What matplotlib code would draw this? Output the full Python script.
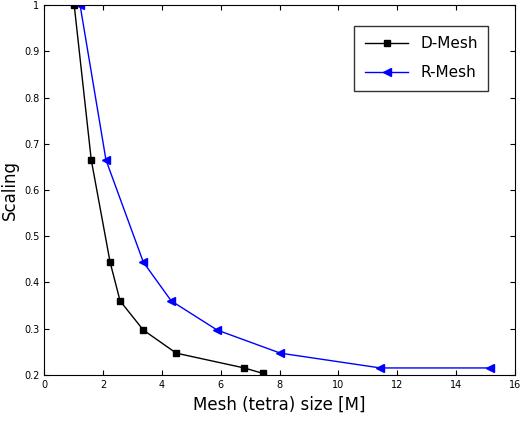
import matplotlib
matplotlib.use("Agg")
import matplotlib.pyplot as plt

d_size = [1.02, 1.6, 2.24, 2.58, 3.37, 4.49, 6.8, 7.45]
d_scale = [1.0, 0.665, 0.444, 0.36, 0.297, 0.247, 0.215, 0.203]
r_size = [1.22, 2.1, 3.37, 4.32, 5.88, 8.03, 11.43, 15.17]
r_scale = [1.0, 0.665, 0.444, 0.36, 0.297, 0.247, 0.215, 0.215]

fig = plt.figure(figsize=(5.2, 4.26), dpi=100)
ax = fig.add_axes([0.085, 0.12, 0.905, 0.868])
ax.plot(d_size, d_scale, color="black", marker="s", ms=5, lw=1, label="D-Mesh")
ax.plot(r_size, r_scale, color="blue", marker="<", ms=6, lw=1, label="R-Mesh")
ax.set_xlim(0, 16)
ax.set_ylim(0.2, 1.0)
ax.set_xticks(range(0, 17, 2))
ax.set_yticks([0.2, 0.3, 0.4, 0.5, 0.6, 0.7, 0.8, 0.9, 1])
ax.set_yticklabels(["0.2", "0.3", "0.4", "0.5", "0.6", "0.7", "0.8", "0.9", "1"])
ax.tick_params(labelsize=7, direction="in", top=True, right=True)
ax.set_xlabel("Mesh (tetra) size [M]", fontsize=12)
ax.set_ylabel("Scaling", fontsize=12)
ax.legend(loc="upper right", fontsize=11, fancybox=False, edgecolor="black",
          bbox_to_anchor=(0.96, 0.965), handlelength=2.8, labelspacing=0.9,
          borderpad=0.7)
fig.savefig("out.png", dpi=100)
